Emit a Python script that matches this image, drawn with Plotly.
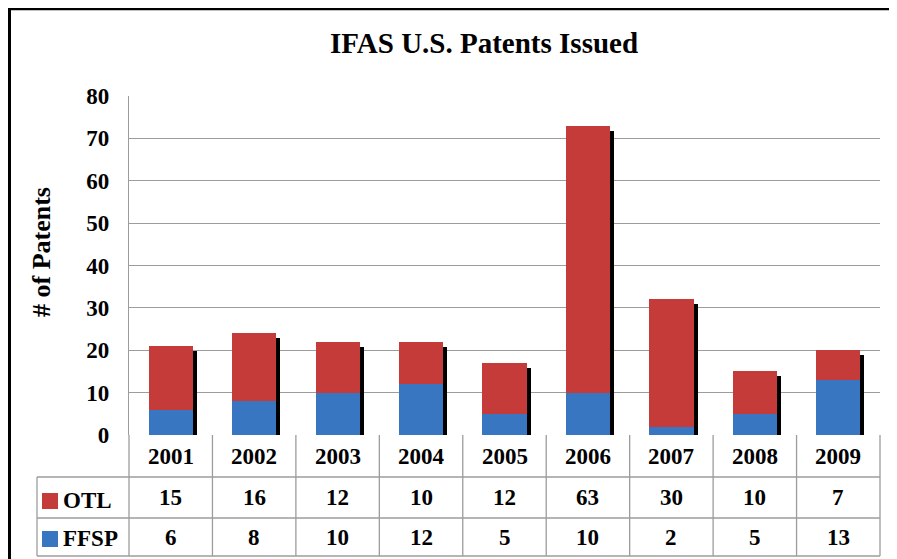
import plotly.graph_objects as go

years = ["2001", "2002", "2003", "2004", "2005", "2006", "2007", "2008", "2009"]
otl = [15, 16, 12, 10, 12, 63, 30, 10, 7]
ffsp = [6, 8, 10, 12, 5, 10, 2, 5, 13]
y_ticks = [0, 10, 20, 30, 40, 50, 60, 70, 80]

RED = "#C43B39"
BLUE = "#3876C2"
GRID = "#9c9c9c"
FONT = "Liberation Serif"

# page body has an 8px margin; work in screenshot pixels and convert
OX, OY = 8, 8
W, H = 897 - OX, 559 - OY
plot_left, plot_right, plot_top, plot_bottom = 129, 880, 96, 435
L = plot_left - OX
R = W - (plot_right - OX)
T = plot_top - OY
B = H - (plot_bottom - OY)
PW, PH = W - L - R, H - T - B
n = len(years)
idx = list(range(n))
totals = [a + b for a, b in zip(otl, ffsp)]

def px_x(px):
    return (px - OX - L) / PW

def px_y(py):
    return (H - B - (py - OY)) / PH

bw = 0.53
unit_px = PH / 80.0
shadow_dx = 4.0 / (PW / n)
shadow_dy = 5.0 / unit_px

fig = go.Figure()
fig.add_trace(go.Bar(x=idx, y=[t - shadow_dy for t in totals], width=bw,
                     offset=-bw / 2 + shadow_dx, marker=dict(color="black", line=dict(width=0)),
                     showlegend=False, hoverinfo="skip"))
fig.add_trace(go.Bar(x=idx, y=ffsp, width=bw, offset=-bw / 2, name="FFSP",
                     marker=dict(color=BLUE, line=dict(width=0)), showlegend=False))
fig.add_trace(go.Bar(x=idx, y=otl, base=ffsp, width=bw, offset=-bw / 2, name="OTL",
                     marker=dict(color=RED, line=dict(width=0)), showlegend=False))

shapes = []
ann = []
tf = dict(family=FONT, size=23, color="black", weight="bold")

y_axis = plot_bottom
y_h = 477
y_o = 518
y_f = 556
x_leg = 37
line = dict(color=GRID, width=1.3)

for k in range(n + 1):
    shapes.append(dict(type="line", xref="paper", yref="paper", x0=k / n, x1=k / n,
                       y0=px_y(y_axis), y1=px_y(y_f), line=line))
shapes.append(dict(type="line", xref="paper", yref="paper", x0=px_x(x_leg), x1=px_x(x_leg),
                   y0=px_y(y_h), y1=px_y(y_f), line=line))
for yy in (y_h, y_o, y_f):
    shapes.append(dict(type="line", xref="paper", yref="paper", x0=px_x(x_leg), x1=1,
                       y0=px_y(yy), y1=px_y(yy), line=line))

def cell(x, y, text, xanchor="center", font=tf):
    return dict(x=x, y=y, xref="paper", yref="paper", text=text, showarrow=False,
                xanchor=xanchor, yanchor="middle", font=font)

for i in range(n):
    cx = (i + 0.5) / n
    ann.append(cell(cx, px_y((y_axis + y_h) / 2), years[i]))
    ann.append(cell(cx, px_y((y_h + y_o) / 2), str(otl[i])))
    ann.append(cell(cx, px_y((y_o + y_f) / 2), str(ffsp[i])))

for (label, col, y0, y1) in (("OTL", RED, 493, 509), ("FFSP", BLUE, 531, 547)):
    shapes.append(dict(type="rect", xref="paper", yref="paper", x0=px_x(42), x1=px_x(58),
                       y0=px_y(y1), y1=px_y(y0), fillcolor=col, line=dict(width=0)))
    ann.append(cell(px_x(61), px_y((y0 + y1) / 2 - 1), label, xanchor="left"))

# outer frame (left and top)
shapes.append(dict(type="line", xref="paper", yref="paper", x0=px_x(9.5), x1=px_x(9.5),
                   y0=px_y(8), y1=px_y(H + 20), line=dict(color="black", width=3)))
shapes.append(dict(type="line", xref="paper", yref="paper", x0=px_x(8), x1=px_x(W + 20),
                   y0=px_y(9), y1=px_y(9), line=dict(color="black", width=2.5)))

title = cell(px_x(484), px_y(43), "IFAS U.S. Patents Issued",
             font=dict(family=FONT, size=29, color="black", weight="bold"))
ann.append(title)
ylab = cell(px_x(41), px_y(252), "# of Patents",
            font=dict(family=FONT, size=26, color="black", weight="bold"))
ylab["textangle"] = -90
ann.append(ylab)

fig.update_layout(
    width=W, height=H, margin=dict(l=L, r=R, t=T, b=B, autoexpand=False),
    paper_bgcolor="white", plot_bgcolor="white",
    barmode="overlay", bargap=0,
    shapes=shapes, annotations=ann,
    font=dict(family=FONT, color="black"),
)
fig.update_xaxes(range=[-0.5, n - 0.5], showticklabels=False, showgrid=False,
                 zeroline=False, showline=False, ticks="")
fig.update_yaxes(range=[0, 80], tickvals=y_ticks, ticktext=[str(v) for v in y_ticks],
                 showgrid=True, gridcolor=GRID, gridwidth=1.3, zeroline=False,
                 showline=True, linecolor=GRID, linewidth=1.3, ticks="",
                 tickfont=dict(family=FONT, size=23, color="black", weight="bold"),
                 ticklabelstandoff=14)

fig.write_html("out.html")
